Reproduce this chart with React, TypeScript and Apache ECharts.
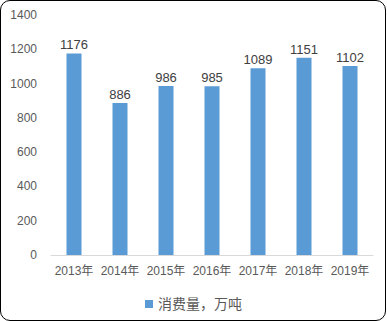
import React, { useEffect, useRef } from "react";
import * as echarts from "echarts";

const categories = ["2013年", "2014年", "2015年", "2016年", "2017年", "2018年", "2019年"];
const values = [1176, 886, 986, 985, 1089, 1151, 1102];
const seriesName = "消费量，万吨";

const FONT = "'Liberation Sans', 'Noto Sans CJK SC', sans-serif";

export default function App() {
  const ref = useRef<HTMLDivElement>(null);
  useEffect(() => {
    if (!ref.current) return;
    const chart = echarts.init(ref.current, null, { renderer: "svg" });
    chart.setOption({
      animation: false,
      backgroundColor: "#ffffff",
      textStyle: { fontFamily: FONT },
      grid: { left: 51, right: 14, top: 15, bottom: 66, containLabel: false },
      legend: {
        data: [seriesName],
        top: 292,
        left: "center",
        itemWidth: 8,
        itemHeight: 8,
        icon: "rect",
        textStyle: { fontSize: 14, color: "#595959", fontFamily: FONT },
      },
      xAxis: {
        type: "category",
        data: categories,
        axisLine: { lineStyle: { color: "#D9D9D9", width: 1 } },
        axisTick: { show: false },
        axisLabel: { fontSize: 12, color: "#595959", margin: 10, interval: 0, fontFamily: FONT },
      },
      yAxis: {
        type: "value",
        min: 0,
        max: 1400,
        interval: 200,
        axisLine: { show: false },
        axisTick: { show: false },
        splitLine: { show: false },
        axisLabel: {
          fontSize: 12,
          color: "#595959",
          margin: 14,
          fontFamily: FONT,
          formatter: (v: number) => String(v),
        },
      },
      series: [
        {
          name: seriesName,
          type: "bar",
          data: values,
          barWidth: 15,
          itemStyle: { color: "#5B9BD5" },
          label: {
            show: true,
            position: "top",
            distance: 2,
            fontSize: 13,
            color: "#404040",
            fontFamily: FONT,
          },
        },
      ],
    });
    return () => chart.dispose();
  }, []);
  return (
    <div style={{ position: "absolute", left: 0, top: 0, width: 387, height: 321 }}>
      <div ref={ref} style={{ position: "absolute", left: 0, top: 0, width: 387, height: 321 }} />
      <div
        style={{
          position: "absolute",
          left: 0,
          top: 0,
          width: 386,
          height: 321,
          boxSizing: "border-box",
          border: "1px solid #000",
          borderRadius: 10,
          pointerEvents: "none",
        }}
      />
    </div>
  );
}
